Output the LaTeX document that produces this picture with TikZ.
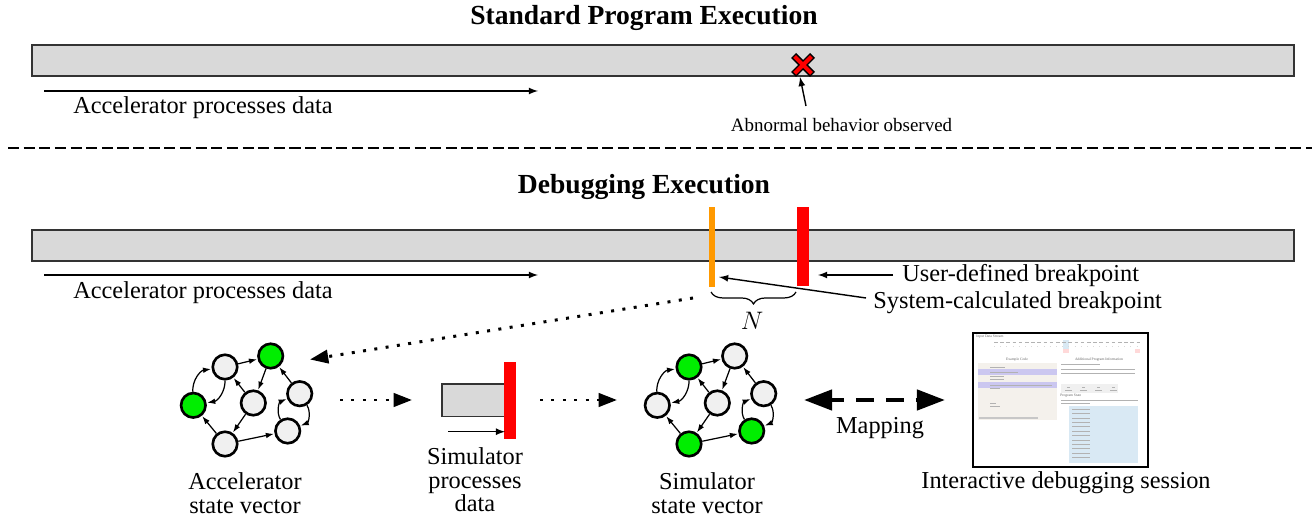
\documentclass[tikz,border=0pt]{standalone}
\usepackage{fontspec}
\setmainfont{Liberation Serif}
\usetikzlibrary{arrows.meta,decorations.pathreplacing}
\definecolor{barfill}{gray}{0.85}
\definecolor{bpgreen}{RGB}{0,238,0}
\definecolor{bporange}{RGB}{255,153,0}
\definecolor{codebg}{RGB}{244,241,236}
\definecolor{codehl}{RGB}{203,199,240}
\definecolor{statebg}{RGB}{217,233,244}
\tikzset{
	lab/.style={font=\fontsize{13.85}{13.4}\selectfont, inner sep=0pt, align=center},
	note/.style={font=\fontsize{10.8}{12}\selectfont, inner sep=0pt},
	head/.style={font=\fontsize{15.7}{17}\selectfont\bfseries, inner sep=0pt},
	tiny/.style={font=\fontsize{2.1}{3}\selectfont, inner sep=0pt, text=black!60},
	runbar/.style={draw=black!80, line width=0.8pt, fill=barfill, minimum width=25.24cm, minimum height=0.62cm, inner sep=0pt},
	brk/.style={fill=#1, draw=none, inner sep=0pt},
	conn/.style={line width=0.8pt, -latex},
	dotarrow/.style={line width=1.7pt, dash pattern=on 1.7pt off 4.8pt, -{Triangle[length=10.4pt,width=7.6pt]}},
	st/.style={circle, draw=black, line width=1.5pt, fill=black!6, minimum size=0.49cm, inner sep=0pt},
	on/.style={st, fill=bpgreen},
	edge/.style={line width=0.7pt, -{Latex[length=4.6pt,width=3.2pt]}, shorten >=0.3pt},
	txt/.style={draw=black!30, line width=0.3pt}
}
\begin{document}
\begin{tikzpicture}[x=0.02cm, y=-0.02cm]
\useasboundingbox (0,0) rectangle (1312,516);
% top run
\node[head] (titleA) at (644,17.5) {Standard Program Execution};
\node[runbar] (runA) at (663,60.5) {};
\coordinate (dataA1) at (44,91);
\coordinate (dataA2) at (538,91);
\draw[conn] (dataA1) -- (dataA2);
\node[lab] (labA) at (203,107.5) {Accelerator processes data};
\coordinate (fault) at (803,65);
\draw[fill=red, line width=0.8pt, shift={(fault)}] (-11,-7) -- (-7,-11) -- (0,-4) -- (7,-11) -- (11,-7) -- (4,0)
	-- (11,7) -- (7,11) -- (0,4) -- (-7,11) -- (-11,7) -- (-4,0) -- cycle;
\node[note] (abn) at (841.5,125.5) {Abnormal behavior observed};
\coordinate (abnS) at (806,106);
\coordinate (abnT) at (800,77);
\draw[conn] (abnS) -- (abnT);
\draw[line width=0.75pt, dash pattern=on 6.3pt off 2.6pt] (8,148) -- (1312,148);
% debugging run
\node[head] (titleB) at (644,186.5) {Debugging Execution};
\node[runbar] (runB) at (663,245.5) {};
\coordinate (dataB1) at (44,275);
\coordinate (dataB2) at (538,275);
\draw[conn] (dataB1) -- (dataB2);
\node[lab] (labB) at (203,292.5) {Accelerator processes data};
\node[brk=bporange, minimum width=0.12cm, minimum height=1.62cm] (sysbp) at (712,247) {};
\node[brk=red, minimum width=0.24cm, minimum height=1.58cm] (usrbp) at (803,246.5) {};
\node[lab, anchor=west] (usr) at (902,276) {User-defined breakpoint};
\node[lab, anchor=west] (sys) at (873,303) {System-calculated breakpoint};
\coordinate (usrT) at (818,275);
\coordinate (usrS) at (893,275);
\draw[conn] (usrS) -- (usrT);
\coordinate (sysT) at (719,277);
\coordinate (sysS) at (866,298);
\draw[conn] (sysS) -- (sysT);
\coordinate (nA) at (711,292);
\coordinate (nB) at (796,292);
\draw[line width=0.7pt, decorate, decoration={brace, mirror, amplitude=6.8pt}] (nA) -- (nB);
\node[lab] (nlab) at (752,321) {$N$};
\coordinate (stopS) at (693,298);
\coordinate (stopT) at (310,359.5);
\draw[dotarrow] (stopS) -- (stopT);
% accelerator state
\node[st] (a1) at (225,367) {};
\node[on] (a2) at (270.7,356) {};
\node[on] (a3) at (193.3,405.3) {};
\node[st] (a4) at (253.3,403) {};
\node[st] (a5) at (299.7,393.7) {};
\node[st] (a6) at (225,444) {};
\node[st] (a7) at (287.7,431) {};
\node[lab] (acc) at (245,493) {Accelerator\\state vector};
% simulator state
\node[on] (s1) at (689,367) {};
\node[st] (s2) at (734.7,356) {};
\node[st] (s3) at (657.3,405.3) {};
\node[st] (s4) at (717.3,403) {};
\node[st] (s5) at (763.7,393.7) {};
\node[on] (s6) at (689,444) {};
\node[on] (s7) at (751.7,431) {};
\node[lab] (sim) at (707,493) {Simulator\\state vector};
\foreach \g in {a,s} {
	\draw[edge] (\g1) -- (\g2);
	\draw[edge] (\g2) -- (\g4);
	\draw[edge] (\g4) -- (\g1);
	\draw[edge] (\g4) -- (\g6);
	\draw[edge] (\g6) -- (\g3);
	\draw[edge] (\g6) -- (\g7);
	\draw[edge] (\g5) -- (\g2);
	\draw[edge] (\g3) to[bend left=42] (\g1);
	\draw[edge] (\g1) to[bend left=40] (\g3);
	\draw[edge] (\g7) to[bend left=50] (\g5);
	\draw[edge] (\g5) to[bend left=50] (\g7);
}
% simulator box
\node[draw=black!80, line width=0.7pt, fill=barfill, minimum width=1.26cm, minimum height=0.65cm, inner sep=0pt] (simbox) at (473.5,400.3) {};
\node[brk=red, minimum width=0.23cm, minimum height=1.54cm] (simbp) at (510,400.5) {};
\coordinate (simS) at (448,431.7);
\coordinate (simT) at (505,431.7);
\draw[conn] (simS) -- (simT);
\node[lab] (simlab) at (475,480) {Simulator\\processes\\data};
\coordinate (d1) at (340,400);
\coordinate (d2) at (412,400);
\coordinate (d3) at (540,400);
\coordinate (d4) at (617,400);
\draw[dotarrow] (d1) -- (d2);
\draw[dotarrow] (d3) -- (d4);
% mapping
\coordinate (m1) at (804,400);
\coordinate (m2) at (945,400);
\draw[line width=2.6pt, dash pattern=on 10.2pt off 6.8pt, dash phase=2.8pt, {Triangle[length=16pt,width=11.4pt]}-{Triangle[length=16pt,width=11.4pt]}] (m1) -- (m2);
\node[lab] (map) at (880,428.5) {Mapping};
% screenshot
\node[draw=black, line width=0.9pt, fill=white, minimum width=3.5cm, minimum height=2.68cm, inner sep=0pt] (shot) at (1060.5,400) {};
\node[tiny, anchor=west] (sh1) at (976,337) {Input Data Stream};
\fill[statebg] (1063,340) rectangle (1069,349);
\fill[red!15] (1063,349) rectangle (1069,353);
\fill[red!15] (1135,349) rectangle (1140,353);
\foreach \x in {994,1000.2,...,1140} \draw[txt] (\x,342) -- ++(3.5,0);
\foreach \x in {994,1000.2,...,1140} \draw[txt, draw=black!15] (\x,346) -- ++(1,0);
\node[tiny] (sh2) at (1017,360) {Example Code};
\node[tiny] (sh3) at (1099,360) {Additional Program Information};
\fill[codebg] (978,363) rectangle (1057,420);
\fill[codehl] (978,369) rectangle (1057,375);
\fill[codehl] (978,382) rectangle (1057,388);
\foreach \y/\e in {367/1005,372/1018,376/1004,379/1004,385/1052,388/1000,403/996,406/1000} \draw[txt] (990,\y) -- (\e,\y);
\fill[black!22] (979,417.5) rectangle (1038,419.5);
\foreach \y/\e in {364/1100,369/1135,373/1135,400/1138,403/1090} \draw[txt] (1061,\y) -- (\e,\y);
\fill[black!6] (1061,384) rectangle (1118,393);
\foreach \x in {1067,1082,1097,1112} \draw[txt] (\x,387) -- ++(3,0) (\x-2,390) -- ++(7,0);
\node[tiny, anchor=west] (sh4) at (1060,396) {Program State};
\fill[statebg] (1069,406) rectangle (1138,463);
\foreach \y in {409,413.4,...,461} \draw[txt] (1072,\y) -- (1090,\y);
\node[lab] (shotlab) at (1066,482.5) {Interactive debugging session};
\end{tikzpicture}
\end{document}
